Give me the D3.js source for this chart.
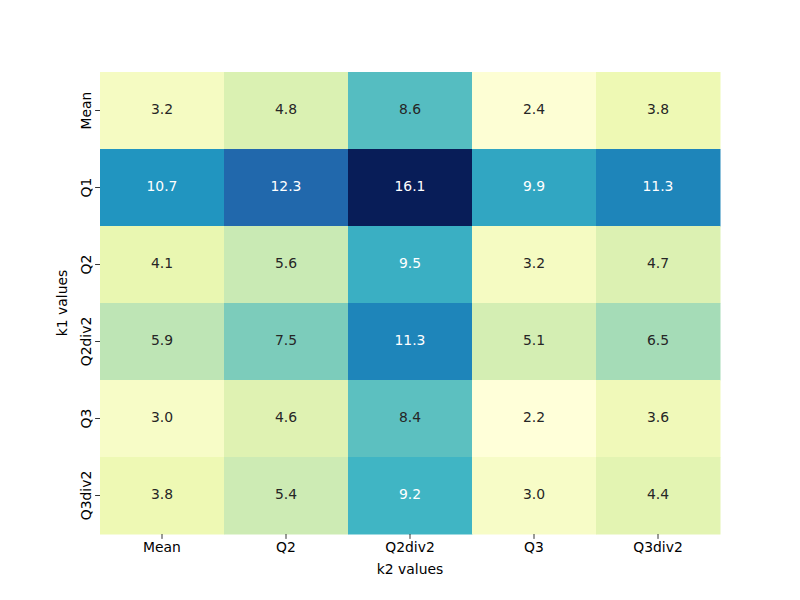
<!DOCTYPE html>
<html><head><meta charset="utf-8">
<script src="https://cdn.jsdelivr.net/npm/d3@7"></script>
<style>body{margin:0;background:#fff}svg{font-family:"DejaVu Sans",sans-serif}</style>
</head><body>
<script>
const rowLabels = ["Mean","Q1","Q2","Q2div2","Q3","Q3div2"];
const colLabels = ["Mean","Q2","Q2div2","Q3","Q3div2"];
const values = [
  [3.2, 4.8, 8.6, 2.4, 3.8],
  [10.7, 12.3, 16.1, 9.9, 11.3],
  [4.1, 5.6, 9.5, 3.2, 4.7],
  [5.9, 7.5, 11.3, 5.1, 6.5],
  [3.0, 4.6, 8.4, 2.2, 3.6],
  [3.8, 5.4, 9.2, 3.0, 4.4]
];
const palette = ["#ffffd9","#edf8b1","#c7e9b4","#7fcdbb","#41b6c4","#1d91c0","#225ea8","#253494","#081d58"];

const W=800,H=600, L=100,R=720,T=72,B=534;
const svg=d3.select("body").append("svg").attr("width",W).attr("height",H);
const x=d3.scaleBand().domain(colLabels).range([L,R]);
const y=d3.scaleBand().domain(rowLabels).range([T,B]);
const flat=values.flat();
const vmin=d3.min(flat), vmax=d3.max(flat);
const cs=d3.scaleLinear().domain(palette.map((_,i)=>vmin+(vmax-vmin)*i/(palette.length-1))).range(palette).interpolate(d3.interpolateRgb);

function lum(c){const r=d3.rgb(c);const f=v=>{v/=255;return v<=0.03928?v/12.92:Math.pow((v+0.055)/1.055,2.4)};return 0.2126*f(r.r)+0.7152*f(r.g)+0.0722*f(r.b);}

const cells=[];
values.forEach((row,i)=>row.forEach((v,j)=>cells.push({r:rowLabels[i],c:colLabels[j],v})));
svg.selectAll("rect.cell").data(cells).join("rect").attr("class","cell")
  .attr("x",d=>x(d.c)).attr("y",d=>y(d.r)).attr("width",x.bandwidth()+0.5).attr("height",y.bandwidth()+0.5)
  .attr("fill",d=>cs(d.v));
svg.selectAll("text.val").data(cells).join("text").attr("class","val")
  .attr("x",d=>x(d.c)+x.bandwidth()/2).attr("y",d=>y(d.r)+y.bandwidth()/2-1.5)
  .attr("text-anchor","middle").attr("dominant-baseline","central").attr("font-size","13.9px")
  .attr("fill",d=>lum(cs(d.v))>0.408?"#262626":"#ffffff").text(d=>d.v.toFixed(1));

const xa=svg.append("g").attr("transform",`translate(0,${B})`).call(d3.axisBottom(x).tickSize(4.9).tickPadding(3.5));
xa.select(".domain").remove();
xa.selectAll("text").attr("font-size","13.9px").attr("fill","#000").attr("font-family","DejaVu Sans");
xa.selectAll("line").attr("stroke","#000").attr("stroke-width",0.8);
const ya=svg.append("g").attr("transform",`translate(${L},0)`).call(d3.axisLeft(y).tickSize(4.9).tickPadding(3.5));
ya.select(".domain").remove();
ya.selectAll("line").attr("stroke","#000").attr("stroke-width",0.8);
ya.selectAll("text").attr("font-size","13.9px").attr("fill","#000").attr("font-family","DejaVu Sans")
  .attr("text-anchor","middle").attr("dy",null).attr("dominant-baseline","auto")
  .attr("transform","rotate(-90)").attr("x",0).attr("y",-9.5);

svg.append("text").attr("x",(L+R)/2).attr("y",574).attr("text-anchor","middle").attr("font-size","13.9px").text("k2 values");
svg.append("text").attr("transform",`translate(67,${(T+B)/2}) rotate(-90)`).attr("text-anchor","middle").attr("font-size","13.9px").text("k1 values");
</script>
</body></html>
